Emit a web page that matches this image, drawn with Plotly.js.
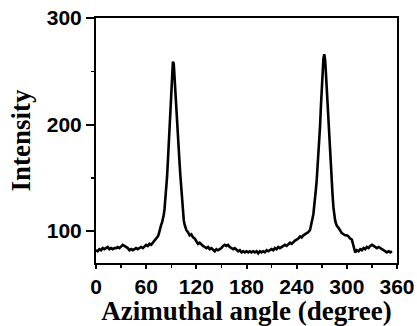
<!DOCTYPE html>
<html>
<head>
<meta charset="utf-8">
<script src="https://cdn.plot.ly/plotly-3.0.1.min.js"></script>
<style>html,body{margin:0;padding:0;background:#fff;}#chart{width:417px;height:326px;}</style>
</head>
<body>
<div id="chart"></div>
<script>
var angle = [0,2,4,6,8,10,12,14,16,18,20,22,24,26,28,30,32,34,36,38,40,42,44,46,48,50,52,54,56,58,60,62,64,66,68,70,72,74,75,76,77,78,79,80,81,82,83,84,85,86,87,88,89,90,91,92,93,94,95,96,97,98,99,100,101,102,103,104,105,106,107,108,110,112,114,116,118,120,122,124,126,128,130,132,134,136,138,140,142,144,146,148,150,152,154,156,158,160,162,164,166,168,170,172,174,176,178,180,182,184,186,188,190,192,194,196,198,200,202,204,206,208,210,212,214,216,218,220,222,224,226,228,230,232,234,236,238,240,242,244,246,248,250,252,254,256,257,258,259,260,261,262,263,264,265,266,267,268,269,270,271,272,273,274,275,276,277,278,279,280,281,282,283,284,285,286,287,288,290,292,294,296,298,300,302,304,306,308,310,312,314,316,318,320,322,324,326,328,330,332,334,336,338,340,342,344,346,348,350,352,354,356,358,360];
var intensity = [82,81,83,82,84,83,84,85,83,84,83,84,84,85,84,86,87,86,85,84,82,83,82,83,84,83,84,85,84,86,87,86,88,87,89,90,92,95,97,101,104,106,108,111,115,121,129,139,151,166,183,199,214,229,247,259,257,242,230,214,200,186,175,163,151,139,127,117,110,106,103,101,99,96,97,94,93,91,88,89,87,86,85,84,85,83,84,82,81,83,82,83,84,86,87,86,87,85,84,83,84,82,81,82,80,81,80,81,80,81,80,81,80,81,79,81,80,81,80,82,81,82,83,82,84,83,85,84,85,86,87,86,88,89,88,90,91,92,93,95,94,96,97,98,99,101,106,108,112,116,122,130,139,148,159,170,180,199,217,235,250,262,266,261,248,232,217,200,183,168,155,145,133,122,114,110,107,105,103,100,98,97,96,96,95,93,92,86,80,82,81,83,82,84,83,85,84,86,87,86,85,84,85,84,83,82,81,80,81,80,81];

var axisFont = {family: 'Liberation Sans, Arial, sans-serif', size: 21, color: '#000', weight: 'bold'};
var titleFont = {family: 'Liberation Serif, Times New Roman, serif', size: 27, color: '#000', weight: 'bold'};

Plotly.newPlot('chart', [{
  x: angle, y: intensity, type: 'scatter', mode: 'lines',
  line: {color: '#000', width: 2.6}
}], {
  width: 417, height: 326,
  margin: {l: 96, r: 20, t: 18, b: 63},
  paper_bgcolor: '#fff', plot_bgcolor: '#fff',
  showlegend: false,
  xaxis: {
    range: [0, 360], tickvals: [0,60,120,180,240,300,360],
    ticks: 'outside', ticklen: 4, tickwidth: 2, tickcolor: '#000',
    minor: {dtick: 30, tick0: 0, ticks: 'outside', ticklen: 3, tickwidth: 1.5, tickcolor: '#000'},
    showline: true, linewidth: 2, linecolor: '#000', mirror: true,
    showgrid: false, zeroline: false, tickfont: axisFont,
    title: {text: 'Azimuthal angle (degree)', font: titleFont, standoff: 2}
  },
  yaxis: {
    range: [70, 300], tickvals: [100,200,300],
    ticks: 'outside', ticklen: 8, tickwidth: 2, tickcolor: '#000',
    minor: {tickvals: [150,250], ticks: 'outside', ticklen: 3, tickwidth: 1.5, tickcolor: '#000'},
    showline: true, linewidth: 2, linecolor: '#000', mirror: true,
    showgrid: false, zeroline: false, tickfont: axisFont,
    title: {text: 'Intensity', font: titleFont, standoff: 8}
  }
}, {staticPlot: true, displayModeBar: false});
</script>
</body>
</html>
